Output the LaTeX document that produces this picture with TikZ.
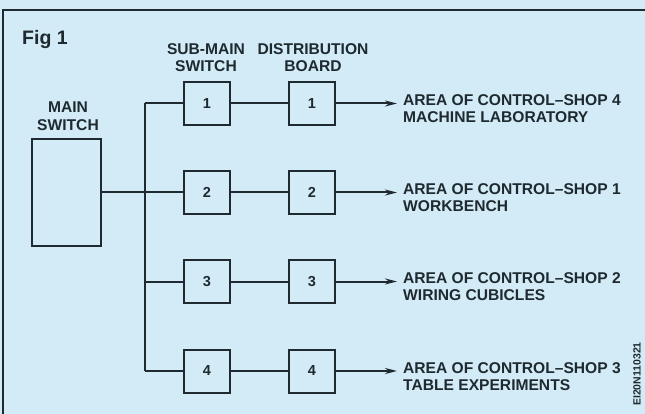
\documentclass[tikz,border=0pt]{standalone}
\usepackage{fontspec}
\setmainfont{Liberation Sans}
\usetikzlibrary{arrows.meta}
\definecolor{bg}{HTML}{D2EBF6}
\definecolor{ink}{HTML}{1F2A30}
\begin{document}
\begin{tikzpicture}[x=1pt,y=-1pt,
  box/.style={draw=ink, line width=2pt, minimum width=46pt, minimum height=43pt, inner sep=0pt, font=\fontsize{14.5}{16}\selectfont\bfseries, text=ink},
  mainbox/.style={draw=ink, line width=2pt, minimum width=69pt, minimum height=107pt, inner sep=0pt},
  wire/.style={draw=ink, line width=2pt},
  lbl/.style={font=\fontsize{15.6}{17.5}\selectfont\bfseries, text=ink, align=center, inner sep=0pt},
  dest/.style={font=\fontsize{15.6}{17}\selectfont\bfseries, text=ink, align=left, anchor=west, inner sep=0pt},
  arr/.style={wire, -{Stealth[length=12pt,width=6pt]}}]
\fill[bg] (0,0) rectangle (645,414);
\useasboundingbox (0,0) rectangle (645,414);
\draw[ink, line width=2.5pt] (645,10) -- (3,10) -- (3,414);

\node[anchor=base west, inner sep=0pt, text=ink, font=\fontsize{19.5}{21}\selectfont\bfseries] (fig) at (22,45) {Fig 1};

\node[lbl] (hsub) at (206,57.5) {SUB-MAIN\\SWITCH};
\node[lbl] (hdb) at (313,57.5) {DISTRIBUTION\\BOARD};
\node[lbl] (hmain) at (68,116) {MAIN\\SWITCH};

\node[mainbox] (ms) at (66.5,192.5) {};

\foreach \i/\y in {1/103.5, 2/192.5, 3/281.5, 4/371} {
  \node[box] (s\i) at (207,\y) {\i};
  \node[box] (d\i) at (312,\y) {\i};
  \coordinate (t\i) at (397,\y);
  \coordinate (b\i) at (145,\y);
  \draw[wire] (s\i) -- (d\i);
  \draw[arr] (d\i) -- (t\i);
  \draw[wire] (b\i) -- (s\i);
}
\draw[wire] (b1) -- (b4);
\draw[wire] (ms) -- (b2);

\node[dest] (a1) at (403,109) {AREA OF CONTROL--SHOP 4\\MACHINE LABORATORY};
\node[dest] (a2) at (403,198) {AREA OF CONTROL--SHOP 1\\WORKBENCH};
\node[dest] (a3) at (403,287) {AREA OF CONTROL--SHOP 2\\WIRING CUBICLES};
\node[dest] (a4) at (403,377) {AREA OF CONTROL--SHOP 3\\TABLE EXPERIMENTS};

\node[rotate=90, inner sep=0pt, text=ink, font=\fontsize{10.5}{12}\selectfont\bfseries] (code) at (637,374) {EI20N110321};
\end{tikzpicture}
\end{document}
